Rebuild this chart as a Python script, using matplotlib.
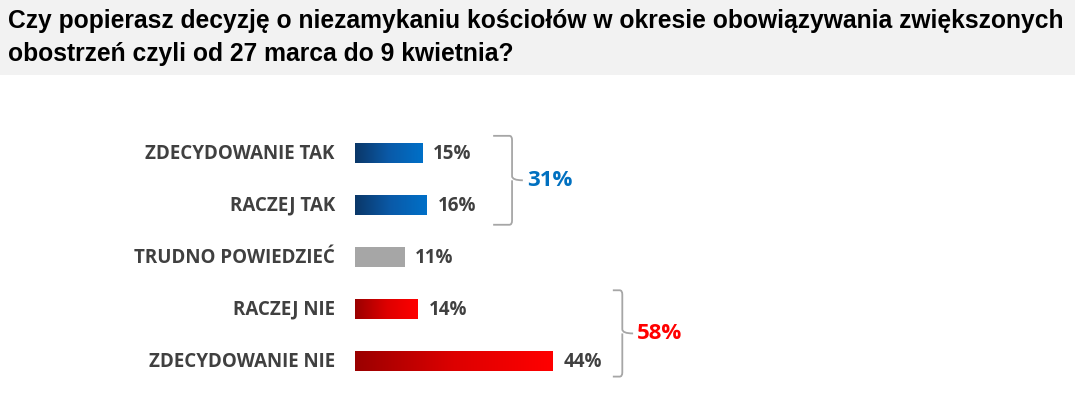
import matplotlib.pyplot as plt
import numpy as np
from matplotlib.path import Path
from matplotlib.patches import PathPatch, Rectangle
from matplotlib.colors import LinearSegmentedColormap

# dane
kategorie = ['ZDECYDOWANIE TAK', 'RACZEJ TAK', 'TRUDNO POWIEDZIEĆ', 'RACZEJ NIE', 'ZDECYDOWANIE NIE']
wartosci = [15, 16, 11, 14, 44]
grupy = [(0, 1), (3, 4)]  # TAK, NIE
tytul_1 = 'Czy popierasz decyzję o niezamykaniu kościołów w okresie obowiązywania zwiększonych'
tytul_2 = 'obostrzeń czyli od 27 marca do 9 kwietnia?'

szary_tekst = '#404040'
cm_blue = LinearSegmentedColormap.from_list('b', ['#0B3768', '#0A5AA8', '#0070C8'])
cm_red = LinearSegmentedColormap.from_list('r', ['#9A0000', '#DD0000', '#FF0000'])
mapy = [cm_blue, cm_blue, None, cm_red, cm_red]
kolory = ['#0070C0', '#0070C0', '#A6A6A6', '#FF0000', '#FF0000']

W, H = 1075, 409
fig = plt.figure(figsize=(W / 100, H / 100), dpi=100)
fig.patch.set_facecolor('white')

# pasek tytulu
fig.patches.append(Rectangle((0, 1 - 75 / H), 1, 75 / H, transform=fig.transFigure,
                             facecolor='#F2F2F2', edgecolor='none', zorder=0))
tfont = ['Liberation Sans', 'DejaVu Sans']
t1 = fig.text(8 / W, 1 - 28 / H, tytul_1, fontsize=16, fontweight='bold', family=tfont,
              color='black', ha='left', va='baseline')
t2 = fig.text(8 / W, 1 - 61 / H, tytul_2, fontsize=16, fontweight='bold', family=tfont,
              color='black', ha='left', va='baseline')
# dopasowanie szerokosci pierwszej linii do ~1052 px
r = fig.canvas.get_renderer()
w1 = t1.get_window_extent(r).width
fs = 16 * 1052 / w1
t1.set_fontsize(fs)
t2.set_fontsize(fs)

# os: 0% przy x=355px, 4.5px na 1%
ax = fig.add_axes([355 / W, (H - 387) / H, 450 / W, 260 / H])
ax.set_axis_off()

y = np.arange(len(kategorie))
h = 0.38
ax.barh(y, wartosci, height=h, color=kolory, zorder=1)
grad = np.linspace(0, 1, 256).reshape(1, -1)
for i, v in enumerate(wartosci):
    if mapy[i] is not None:
        ax.imshow(grad, cmap=mapy[i], aspect='auto', zorder=2,
                  extent=[0, v, y[i] + h / 2, y[i] - h / 2])

lfont = ['Open Sans', 'DejaVu Sans']
for i, (k, v) in enumerate(zip(kategorie, wartosci)):
    ax.annotate(k, (0, y[i]), xytext=(-14.5, -0.5), textcoords='offset points',
                ha='right', va='center', fontsize=13.5, fontweight='bold',
                family=lfont, color=szary_tekst)
    ax.annotate(f'{v}%', (v, y[i]), xytext=(7.5, -0.5), textcoords='offset points',
                ha='left', va='center', fontsize=13.5, fontweight='bold',
                family=lfont, color=szary_tekst)


def klamra(xl, xv, xt, top, bot):
    mid = (top + bot) / 2
    r = 0.08
    rx = 0.6
    verts = [(xl, top), (xv - rx, top), (xv, top), (xv, top + r),
             (xv, mid - r), (xv, mid), (xt, mid),
             (xv, mid), (xv, mid + r),
             (xv, bot - r), (xv, bot), (xv - rx, bot), (xl, bot)]
    codes = [Path.MOVETO, Path.LINETO, Path.CURVE3, Path.CURVE3,
             Path.LINETO, Path.CURVE3, Path.CURVE3,
             Path.MOVETO, Path.CURVE3,
             Path.LINETO, Path.CURVE3, Path.CURVE3, Path.LINETO]
    ax.add_patch(PathPatch(Path(verts, codes), facecolor='none',
                           edgecolor='#A6A6A6', lw=1.3, clip_on=False))
    return mid


# polozenie klamer (x w %, y jako naddatek nad/pod grupa)
klamry_x = [(30.7, 34.9, 37.3), (57.3, 59.4, 61.8)]
klamry_y = [(0.33, 0.38), (0.36, 0.30)]
kolory_sum = ['#0070C0', '#FF0000']
for (a, b), (xl, xv, xt), (dt, db), c in zip(grupy, klamry_x, klamry_y, kolory_sum):
    mid = klamra(xl, xv, xt, a - dt, b + db)
    suma = sum(wartosci[a:b + 1])
    ax.annotate(f'{suma}%', (xt, mid), xytext=(3, 0), textcoords='offset points',
                ha='left', va='center', fontsize=16, fontweight='bold',
                family=lfont, color=c)

ax.set_xlim(0, 100)
ax.set_ylim(4.5, -0.5)

fig.savefig('out.png', dpi=100)
